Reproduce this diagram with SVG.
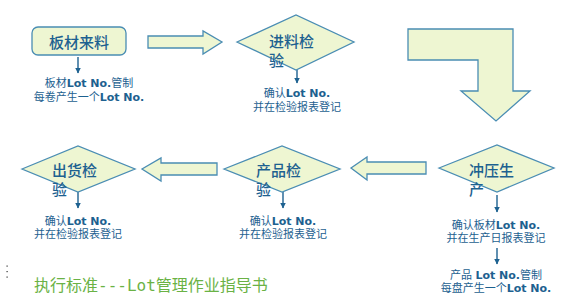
<svg xmlns="http://www.w3.org/2000/svg" width="580" height="300" viewBox="0 0 580 300">
<defs>
<style>
.shape{fill:#eef6d2;stroke:#4a8db3;stroke-width:1.3}
.lbl{font-family:"Noto Sans CJK SC","DejaVu Sans",sans-serif;font-size:15px;fill:#1d6190;font-weight:500}
.sm{font-family:"DejaVu Sans","Noto Sans CJK SC",sans-serif;font-size:11px;fill:#1d6190;text-anchor:middle}
.b{font-weight:bold}
.con{stroke:#1d6190;stroke-width:1.4;fill:none}
.title{font-family:"DejaVu Sans Mono","Noto Sans CJK SC",monospace;font-size:16px;fill:#6ab245}
</style>
<marker id="ah" viewBox="0 0 10 10" refX="9" refY="5" markerWidth="4" markerHeight="4" orient="auto">
<path d="M0,0 L10,5 L0,10 z" fill="#1d6190"/>
</marker>
</defs>
<rect width="580" height="300" fill="#ffffff"/>

<g id="connectors">
<path class="shape" d="M148,36 H203 V31 L222,42 L203,54 V48 H148 Z"/>
<path class="shape" d="M408,29 H513 V91 H530 L496,121 L461,91 H478 V60 H408 Z"/>
<path class="shape" d="M426,162 H367 V157 L351,168 L367,180 V174 H426 Z"/>
<path class="shape" d="M217,163 H161 V158 L142,169 L161,181 V175 H217 Z"/>
<line class="con" x1="78" y1="57" x2="78" y2="73" marker-end="url(#ah)"/>
<line class="con" x1="297" y1="70" x2="297" y2="83" marker-end="url(#ah)"/>
<line class="con" x1="497" y1="195" x2="497" y2="212" marker-end="url(#ah)"/>
<line class="con" x1="497" y1="248" x2="497" y2="264" marker-end="url(#ah)"/>
<line class="con" x1="283" y1="192" x2="283" y2="208" marker-end="url(#ah)"/>
<line class="con" x1="78" y1="192" x2="78" y2="208" marker-end="url(#ah)"/>
</g>

<g id="n1">
<rect class="shape" x="32" y="27" width="94" height="28" rx="6"/>
<text class="lbl" x="79" y="48" text-anchor="middle">板材来料</text>
<text class="sm" x="89" y="87">板材<tspan class="b">Lot No.</tspan>管制</text>
<text class="sm" x="89" y="101">每卷产生一个<tspan class="b">Lot No.</tspan></text>
</g>

<g id="n2">
<path class="shape" d="M237,42 L296,15 L354,42 L296,70 Z"/>
<text class="lbl" x="269" y="47">进料检</text>
<text class="lbl" x="269" y="66">验</text>
<text class="sm" x="297" y="97">确认<tspan class="b">Lot No.</tspan></text>
<text class="sm" x="297" y="111">并在检验报表登记</text>
</g>

<g id="n3">
<path class="shape" d="M439,168 L497,145 L554,168 L497,192 Z"/>
<text class="lbl" x="469" y="176">冲压生</text>
<text class="lbl" x="469" y="195">产</text>
<text class="sm" x="496" y="229">确认板材<tspan class="b">Lot No.</tspan></text>
<text class="sm" x="496" y="242">并在生产日报表登记</text>
<text class="sm" x="496" y="279">产品 <tspan class="b">Lot No.</tspan>管制</text>
<text class="sm" x="496" y="292">每盘产生一个<tspan class="b">Lot No.</tspan></text>
</g>

<g id="n4">
<path class="shape" d="M224,169 L282,146 L340,169 L282,192 Z"/>
<text class="lbl" x="256" y="176">产品检</text>
<text class="lbl" x="256" y="195">验</text>
<text class="sm" x="283" y="225">确认<tspan class="b">Lot No.</tspan></text>
<text class="sm" x="283" y="238">并在检验报表登记</text>
</g>

<g id="n5">
<path class="shape" d="M22,169 L78,146 L135,169 L78,192 Z"/>
<text class="lbl" x="52" y="176">出货检</text>
<text class="lbl" x="52" y="195">验</text>
<text class="sm" x="78" y="225">确认<tspan class="b">Lot No.</tspan></text>
<text class="sm" x="78" y="238">并在检验报表登记</text>
</g>

<g id="footer">
<rect x="6.5" y="265.5" width="1.2" height="1.2" fill="#333"/>
<rect x="6.5" y="271" width="1.2" height="1.2" fill="#333"/>
<rect x="6.5" y="276.5" width="1.2" height="1.2" fill="#333"/>
<text class="title" x="34" y="291">执行标准---Lot管理作业指导书</text>
</g>
</svg>
